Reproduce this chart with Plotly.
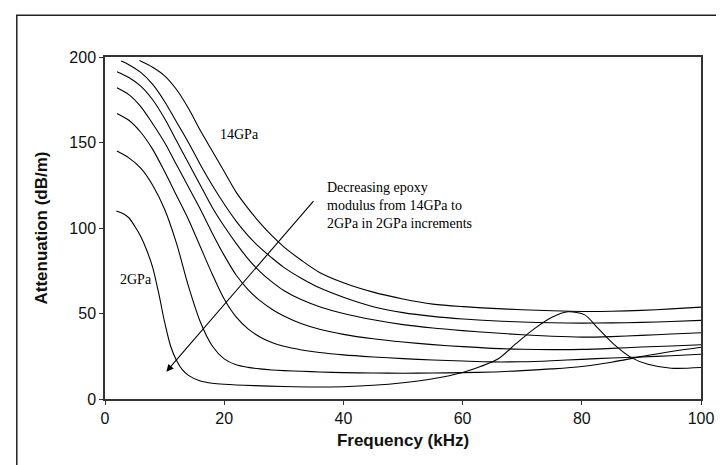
import plotly.graph_objects as go

# ---- data ----
freq_2 = [1.9, 3, 4, 5, 6, 7, 8, 9, 10, 11, 12, 13, 14, 16, 18, 20, 25, 30, 35, 40, 45, 50, 55, 60,
          63, 66, 69, 72, 75, 77.7, 80.5, 82.7, 85.5, 88.3, 91.1, 95, 100]
att_2 = [110, 108.5, 106, 101, 95, 87, 77, 62, 45, 31, 22.5, 17, 13.8, 10.5, 9.2, 8.6, 7.8, 7.3, 7, 7.2,
         8, 9.5, 11.8, 15.5, 19, 23.5, 32.5, 41, 47.8, 51, 49.2, 41.4, 31.6, 24.2, 20.3, 18, 18.4]

freq_base = [2, 4, 6, 8, 10, 12, 14, 16, 18, 20, 22, 24, 26, 28, 30, 33, 36, 40, 45, 50, 55, 60, 65,
             70, 75, 80, 85, 90, 95, 100]
att_4 = [145, 141, 135, 125, 111, 91, 66, 45, 31, 23.5, 20, 18.5, 17.6, 17, 16.6, 16.2, 15.8, 15.4,
         15.2, 15.1, 15.2, 15.4, 15.8, 16.6, 17.6, 19, 21.5, 24.8, 27.8, 30.3]
att_6 = [167, 163, 156, 146, 133, 119, 105, 89, 73, 58.5, 48, 41, 36.3, 33, 30.8, 28.7, 27.2, 25.8,
         24.6, 23.6, 22.8, 22.2, 21.7, 21.8, 22.4, 23.2, 24, 24.6, 25.3, 26.2]
att_8 = [182, 178, 171, 161, 150, 137, 124, 111, 97, 84, 72.5, 64, 57.5, 52.5, 48.5, 44, 40.8, 37.8,
         35.2, 33.3, 31.8, 30.6, 29.6, 29.1, 28.9, 29, 29.6, 30.4, 31, 31.7]
att_10 = [191.4, 188, 183, 175, 164, 151, 138, 125, 112, 101, 91, 82, 74.5, 68.5, 63.5, 58, 54, 50,
          46.3, 43.5, 41.5, 40, 38.7, 37.6, 36.7, 36.2, 36.5, 37.2, 38, 38.7]

freq_12 = [2.7, 4, 6, 8, 10, 12, 14, 16, 18, 20, 22, 24, 26, 28, 30, 33, 36, 40, 45, 50, 55, 60, 65,
           70, 75, 80, 85, 90, 95, 100]
att_12 = [197.6, 195.5, 191, 184, 174, 162, 150, 137, 125, 114, 104, 95.5, 88.5, 82.5, 77, 70.5, 65,
          59.5, 54, 50.5, 48.3, 46.8, 45.8, 45, 44.6, 44.4, 44.5, 44.8, 45.3, 46]

freq_14 = [5.8, 8, 10, 12, 14, 16, 18, 20, 22, 24, 26, 28, 30, 33, 36, 40, 45, 50, 55, 60, 65, 70, 75,
           80, 85, 90, 95, 100]
att_14 = [198, 194, 189, 181, 170, 157, 145, 133, 121, 111.5, 103, 95.5, 89, 81, 74, 68, 62.5, 58.5,
          55.5, 54, 53, 52.2, 51.6, 51.2, 51.3, 51.8, 52.7, 53.7]

series = [
    ("2GPa", freq_2, att_2),
    ("4GPa", freq_base, att_4),
    ("6GPa", freq_base, att_6),
    ("8GPa", freq_base, att_8),
    ("10GPa", freq_base, att_10),
    ("12GPa", freq_12, att_12),
    ("14GPa", freq_14, att_14),
]

x_ticks = [0, 20, 40, 60, 80, 100]
y_ticks = [0, 50, 100, 150, 200]

label_14 = "14GPa"
label_2 = "2GPa"
note_text = "Decreasing epoxy<br>modulus from 14GPa to<br>2GPa in 2GPa increments"

# ---- figure ----
fig = go.Figure()
for name, fx, fy in series:
    fig.add_trace(go.Scatter(
        x=fx, y=fy, mode="lines", name=name,
        line=dict(color="black", width=1.1, shape="spline", smoothing=0.8),
        showlegend=False, hoverinfo="skip",
    ))

sans = "Liberation Sans, Arial, sans-serif"
serif = "Liberation Serif, Times New Roman, serif"

fig.update_layout(
    width=724, height=465,
    margin=dict(l=97, r=31, t=49, b=74),
    paper_bgcolor="white", plot_bgcolor="white",
    font=dict(family=sans, size=16, color="black"),
    showlegend=False,
    xaxis=dict(
        range=[0, 100], tickvals=x_ticks, ticks="outside", ticklen=4, tickwidth=1.2,
        tickcolor="#333", showgrid=False, zeroline=False, showline=True, linecolor="#333",
        linewidth=1.5, mirror=True,
        tickfont=dict(family=sans, size=16, color="#111"),
        title=dict(text="<b>Frequency (kHz)</b>", font=dict(family=sans, size=17, color="#111"),
                   standoff=8),
    ),
    yaxis=dict(
        range=[0, 200], tickvals=y_ticks, ticks="outside", ticklen=4, tickwidth=1.2,
        tickcolor="#333", showgrid=False, zeroline=False, showline=True, linecolor="#333",
        linewidth=1.5, mirror=True,
        tickfont=dict(family=sans, size=16, color="#111"),
        title=dict(text="<b>Attenuation (dB/m)</b>", font=dict(family=sans, size=17, color="#111"),
                   standoff=17),
    ),
)

# outer frame (cut at right and bottom edges as in the reference)
fig.add_shape(type="rect", xref="paper", yref="paper",
              x0=-0.148, y0=-0.35, x1=1.2, y1=1.122,
              line=dict(color="#222", width=1.5), fillcolor="rgba(0,0,0,0)", layer="below")

fig.add_annotation(x=22.6, y=154.5, text=label_14, showarrow=False,
                   font=dict(family=serif, size=14, color="black"))
fig.add_annotation(x=5.25, y=69.7, text=label_2, showarrow=False,
                   font=dict(family=serif, size=14, color="black"))
fig.add_annotation(x=36.9, y=113, text=note_text, showarrow=False, align="left",
                   xanchor="left", yanchor="middle",
                   font=dict(family=serif, size=14, color="black"))
# arrow
fig.add_annotation(x=10.3, y=16.0, ax=35.2, ay=116.6, xref="x", yref="y", axref="x", ayref="y",
                   text="", showarrow=True, arrowhead=2, arrowsize=1.3, arrowwidth=1.1,
                   arrowcolor="black")

fig.write_html("out.html")
